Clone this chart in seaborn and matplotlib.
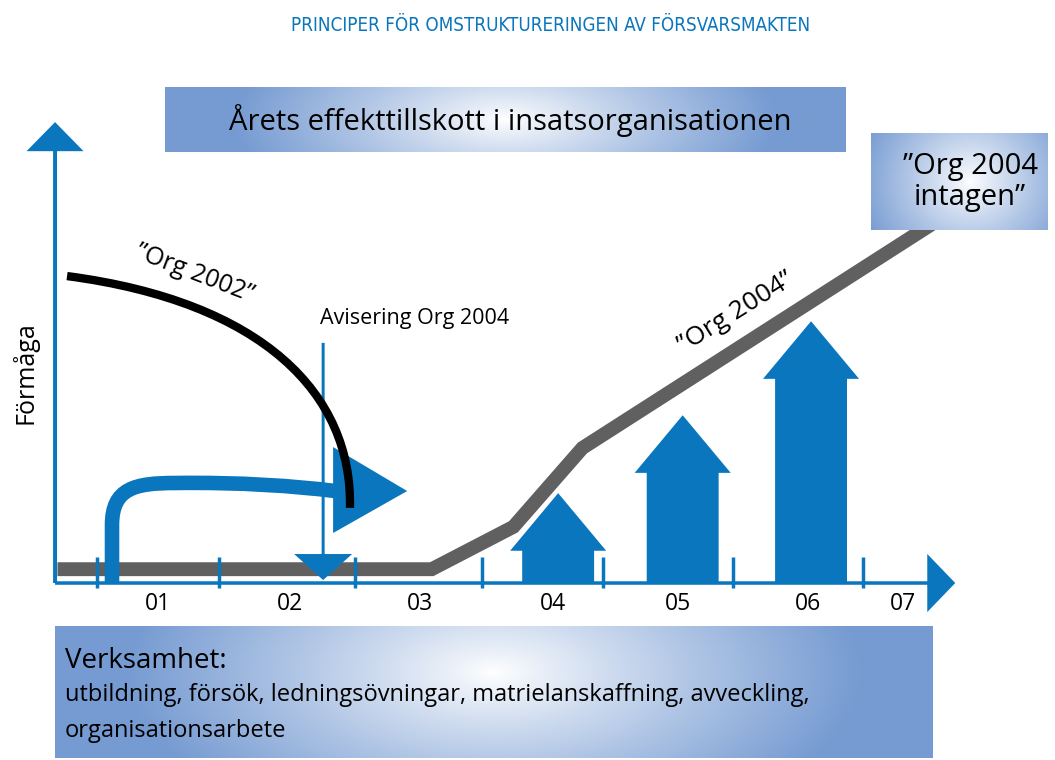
import numpy as np
import matplotlib
matplotlib.use("Agg")
import matplotlib.pyplot as plt
from matplotlib import font_manager
from matplotlib.path import Path
from matplotlib.patches import PathPatch, Polygon
import seaborn as sns

# ---- data (x: year axis, "01" = 1.0 ; y: förmåga units, axis = 0) ----
years = ["01", "02", "03", "04", "05", "06", "07"]
year_label_x = [0.98, 2.01, 3.03, 4.07, 5.05, 6.07, 6.81]
year_tick_x = [0.50, 1.455, 2.52, 3.515, 4.46, 5.48, 6.50]

# "Org 2004" build-up line
org2004_x = [0.19, 3.12, 3.76, 4.30, 7.06]
org2004_y = [0.30, 0.30, 1.22, 2.93, 7.83]

# "Org 2002" curve: start, two control points, end (cubic Bezier)
org2002_x = [0.265, 1.80, 2.50, 2.48]
org2002_y = [6.66, 6.10, 4.10, 1.63]

# yearly capability additions 04-06
arrow_x = [4.11, 5.085, 6.09]
arrow_top = [1.95, 3.64, 5.68]

# "Avisering Org 2004" marker
avisering_x = 2.27
avisering_top = 5.21

# bent blue arrow (verksamhet carried over)
bend_x = [0.617, 0.617, 0.617, 0.797, 1.11, 1.62, 2.05, 2.364]
bend_y = [0.0, 1.26, 2.06, 2.17, 2.17, 2.19, 2.104, 1.996]
bend_head_x = [2.348, 2.348, 2.928]
bend_head_y = [2.95, 1.085, 1.996]

BLUE = "#0a76bd"
BOXBLUE = np.array([118, 155, 210]) / 255.0

sns.set_theme(style="white")
plt.rcParams["font.family"] = ["Open Sans", "DejaVu Sans"]
plt.rcParams["text.color"] = "black"

# narrow face for the heading, if one is installed
names = {f.name for f in font_manager.fontManager.ttflist}
dv_cond = any(f.name == "DejaVu Sans" and "condensed" in str(f.stretch)
              for f in font_manager.fontManager.ttflist)
if "Liberation Sans Narrow" in names:
    title_font = dict(family=["Liberation Sans Narrow"], fontsize=15)
elif dv_cond:
    title_font = dict(family=["DejaVu Sans"], fontstretch="condensed",
                      fontsize=13.5)
else:
    title_font = dict(family=["Roboto", "DejaVu Sans"], fontsize=12.8)

fig = plt.figure(figsize=(10.55, 7.6), dpi=100)
ax = fig.add_axes([0, 0, 1, 1])


def gradient_box(x0, x1, y0, y1, cx, cy, rx, ry, z=1):
    # radial white-to-blue fill; cx, cy, rx, ry as fractions of the box
    w, h = 500, 150
    xx, yy = np.meshgrid(np.linspace(0, 1, w), np.linspace(0, 1, h))
    t = np.sqrt(((xx - cx) / rx) ** 2 + ((yy - cy) / ry) ** 2)
    t = np.clip(t, 0, 1) ** 0.9
    img = np.ones((h, w, 3)) * (1 - t[..., None]) + BOXBLUE * t[..., None]
    ax.imshow(img, extent=[x0, x1, y0, y1], origin="upper", aspect="auto",
              zorder=z, interpolation="bilinear")


# boxes
gradient_box(1.032, 6.357, 9.35, 10.74, 0.50, 0.5, 0.40, 1.6)
gradient_box(6.561, 7.946, 7.657, 9.76, 0.56, 0.5, 0.65, 1.1, z=6)
gradient_box(0.171, 7.039, -3.796, -0.933, 0.50, 0.35, 0.42, 1.3)

# axes with arrow heads
ax.arrow(0.171, 0, 0, 10.0, width=0.031, head_width=0.446, head_length=0.63,
         length_includes_head=True, fc=BLUE, lw=0, zorder=3)
ax.arrow(0.171, 0, 7.048, 0, width=0.076, head_width=1.26, head_length=0.219,
         length_includes_head=True, fc=BLUE, lw=0, zorder=3)
ax.vlines(year_tick_x, -0.108, 0.564, color=BLUE, lw=2.5, zorder=4)
for lab, x in zip(years, year_label_x):
    ax.text(x, -0.45, lab, ha="center", va="center", fontsize=16.5)

# Org 2004 line
sns.lineplot(x=org2004_x, y=org2004_y, sort=False, estimator=None, ax=ax,
             color="#606060", lw=10, solid_joinstyle="miter",
             solid_capstyle="butt", zorder=2)

# capability arrows
for x, top in zip(arrow_x, arrow_top):
    ax.arrow(x, 0, 0, top, width=0.563, head_width=0.752, head_length=1.25,
             length_includes_head=True, fc=BLUE, lw=0, zorder=3)

# bent arrow
codes = [Path.MOVETO, Path.LINETO] + [Path.CURVE4] * 6
ax.add_patch(PathPatch(Path(np.column_stack([bend_x, bend_y]), codes),
                       fill=False, ec=BLUE, lw=10.5, capstyle="butt", zorder=4))
ax.add_patch(Polygon(np.column_stack([bend_head_x, bend_head_y]),
                     closed=True, fc=BLUE, lw=0, zorder=4))

# Avisering marker
ax.arrow(avisering_x, avisering_top, 0, 0.065 - avisering_top, width=0.0235,
         head_width=0.454, head_length=0.564, length_includes_head=True,
         fc=BLUE, lw=0, zorder=4)
ax.text(2.246, 5.75, "Avisering Org 2004", ha="left", va="center",
        fontsize=15.5)

# Org 2002 curve
ax.add_patch(PathPatch(Path(np.column_stack([org2002_x, org2002_y]),
                            [Path.MOVETO, Path.CURVE4, Path.CURVE4, Path.CURVE4]),
                       fill=False, ec="black", lw=6, capstyle="butt", zorder=5))

ax.text(1.267, 6.72, "\u201dOrg 2002\u201d", rotation=-21, ha="center",
        va="center", fontsize=18, rotation_mode="anchor")
ax.text(5.50, 5.86, "\u201dOrg 2004\u201d", rotation=32, ha="center",
        va="center", fontsize=19, rotation_mode="anchor")

# texts
ax.text(4.047, 12.10, "PRINCIPER FÖR OMSTRUKTURERINGEN AV FÖRSVARSMAKTEN",
        ha="center", va="center", color=BLUE, **title_font)
ax.text(3.734, 10.04, "Årets effekttillskott i insatsorganisationen",
        ha="center", va="center", fontsize=21, zorder=6)
ax.text(7.336, 8.70, "\u201dOrg 2004\nintagen\u201d", ha="center", va="center",
        fontsize=21, linespacing=1.1, zorder=7)
ax.text(-0.064, 4.56, "Förmåga", rotation=90, ha="center", va="center",
        fontsize=18)
ax.text(0.249, -1.70, "Verksamhet:", ha="left", va="center", fontsize=20)
ax.text(0.249, -2.43,
        "utbildning, försök, ledningsövningar, matrielanskaffning, avveckling,",
        ha="left", va="center", fontsize=17)
ax.text(0.249, -3.21, "organisationsarbete", ha="left", va="center",
        fontsize=17)

ax.set_xlim(-0.26, 8.0)
ax.set_ylim(-3.84, 12.65)
ax.axis("off")

fig.savefig("out.png", dpi=100, facecolor="white")
